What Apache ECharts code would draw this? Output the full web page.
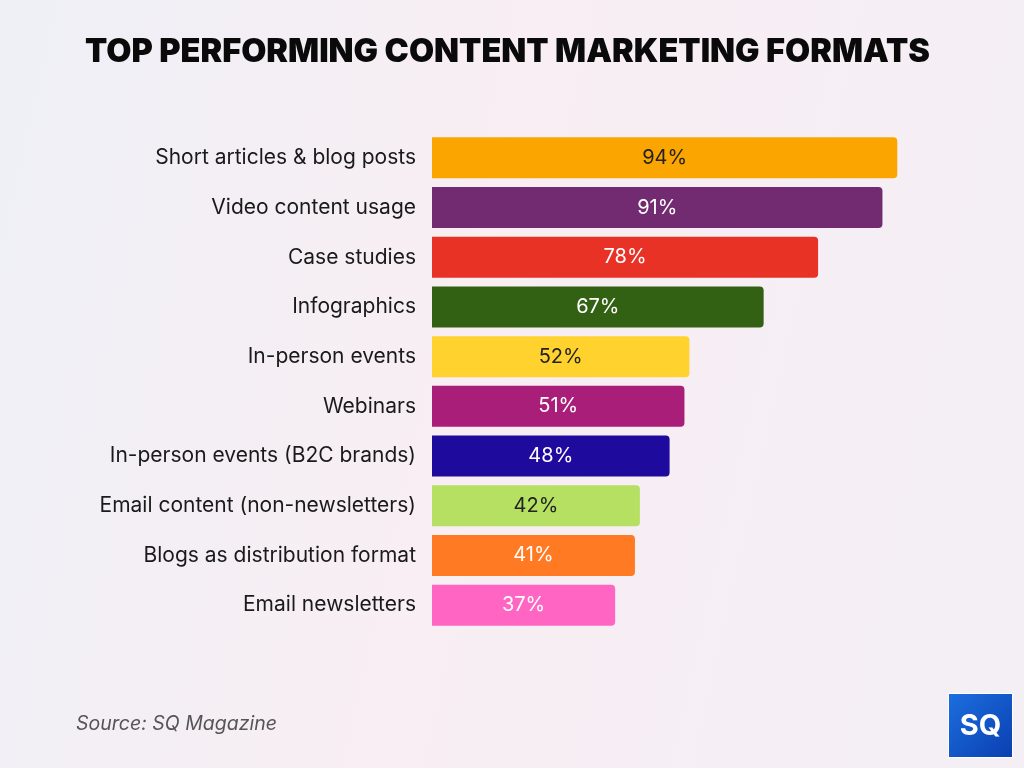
<!DOCTYPE html>
<html>
<head>
<meta charset="utf-8">
<script src="https://cdn.jsdelivr.net/npm/echarts@6/dist/echarts.min.js"></script>
<style>
  html, body { margin: 0; padding: 0; }
  #chart { width: 1024px; height: 768px; }
</style>
</head>
<body>
<div id="chart"></div>
<script>
  // categories, top to bottom
  var categories = [
    "Short articles & blog posts",
    "Video content usage",
    "Case studies",
    "Infographics",
    "In-person events",
    "Webinars",
    "In-person events (B2C brands)",
    "Email content (non-newsletters)",
    "Blogs as distribution format",
    "Email newsletters"
  ];
  var values = [94, 91, 78, 67, 52, 51, 48, 42, 41, 37];
  var barColors = ["#FBA500", "#722A70", "#E83226", "#336114", "#FFD22E",
                   "#A91E78", "#1F0A9E", "#B5E061", "#FF7A22", "#FF66C4"];
  var labelColors = ["#222222", "#ffffff", "#ffffff", "#ffffff", "#222222",
                     "#ffffff", "#ffffff", "#222222", "#ffffff", "#ffffff"];

  var chart = echarts.init(document.getElementById("chart"));

  var barData = values.map(function (v, i) {
    return {
      value: v,
      itemStyle: { color: barColors[i] },
      label: { color: labelColors[i] }
    };
  });

  chart.setOption({
    backgroundColor: {
      type: "linear", x: 0, y: 0, x2: 1, y2: 0.3,
      colorStops: [
        { offset: 0, color: "#eef0f6" },
        { offset: 0.5, color: "#f8eef3" },
        { offset: 1, color: "#f4eff5" }
      ]
    },
    title: {
      text: "TOP PERFORMING CONTENT MARKETING FORMATS",
      left: 85,
      top: 36,
      padding: 0,
      textStyle: {
        fontFamily: "Inter",
        fontWeight: 900,
        fontSize: 32.5,
        color: "#0a0a0a"
      }
    },
    grid: { left: 432, top: 133, width: 495, height: 497, containLabel: false },
    xAxis: {
      type: "value",
      min: 0,
      max: 100,
      show: false
    },
    yAxis: {
      type: "category",
      data: categories,
      inverse: true,
      axisLine: { show: false },
      axisTick: { show: false },
      splitLine: { show: false },
      axisLabel: {
        margin: 16,
        fontFamily: "Inter",
        fontSize: 21,
        color: "#1a1a1a"
      }
    },
    series: [{
      type: "bar",
      data: barData,
      barWidth: 41,
      itemStyle: { borderRadius: [0, 4, 4, 0] },
      label: {
        show: true,
        position: "inside",
        formatter: "{c}%",
        fontFamily: "Inter",
        fontSize: 20
      },
      silent: true
    }],
    graphic: [
      {
        type: "text",
        left: 76,
        top: 714,
        style: {
          text: "Source: SQ Magazine",
          font: "italic 19.5px Inter",
          fill: "#555555"
        }
      },
      {
        type: "group",
        left: 948,
        top: 693,
        children: [
          {
            type: "rect",
            shape: { x: 0, y: 0, width: 64, height: 64 },
            style: {
              fill: {
                type: "linear", x: 0, y: 0, x2: 1, y2: 1,
                colorStops: [
                  { offset: 0, color: "#1c6fe0" },
                  { offset: 1, color: "#0a3fb0" }
                ]
              },
              stroke: "#ffffff",
              lineWidth: 1
            }
          },
          {
            type: "text",
            x: 32,
            y: 33,
            style: {
              text: "SQ",
              font: "bold 29px Inter",
              fill: "#ffffff",
              align: "center",
              verticalAlign: "middle"
            }
          }
        ]
      }
    ]
  });
</script>
</body>
</html>
